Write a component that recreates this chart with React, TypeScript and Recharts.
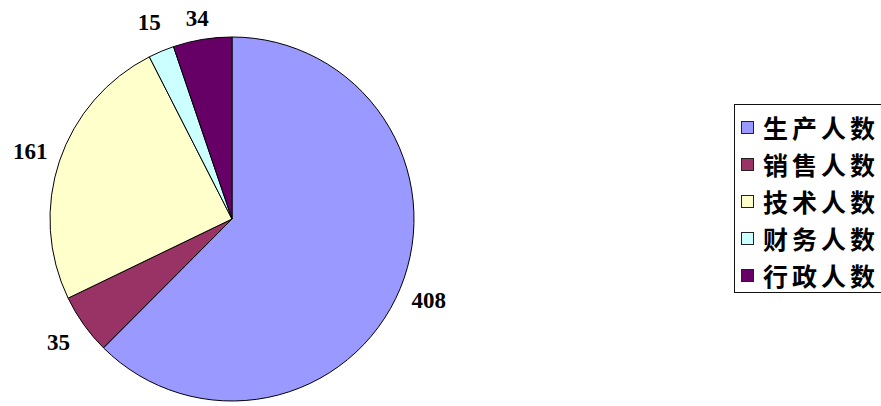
import { Cell, Legend, Pie, PieChart } from 'recharts'

const categories = ['生产人数', '销售人数', '技术人数', '财务人数', '行政人数']
const counts = [408, 35, 161, 15, 34]
const colors = ['#9999FF', '#993366', '#FFFFCC', '#CCFFFF', '#660066']

const data = categories.map((name, i) => ({ name, value: counts[i] }))

const RADIAN = Math.PI / 180

function renderLabel(props: any) {
  const { cx, cy, midAngle, outerRadius, value } = props
  const r = outerRadius + 31
  const x = cx + r * Math.cos(-midAngle * RADIAN)
  // keep the top labels inside the picture
  const y = Math.max(cy + r * Math.sin(-midAngle * RADIAN), 18)
  return (
    <text
      x={x}
      y={y}
      textAnchor="middle"
      dominantBaseline="central"
      fill="#000"
      fontFamily="'Liberation Serif', serif"
      fontWeight="bold"
      fontSize={23}
    >
      {value}
    </text>
  )
}

function LegendBox() {
  return (
    <div
      style={{
        width: 160,
        height: 189,
        border: '1px solid #111',
        background: '#fff',
        boxSizing: 'border-box',
        paddingTop: 4,
      }}
    >
      {categories.map((name, i) => (
        <div key={name} style={{ display: 'flex', alignItems: 'center', height: 37 }}>
          <span
            style={{
              width: 11,
              height: 11,
              marginLeft: 6,
              marginRight: 9,
              background: colors[i],
              border: '1px solid #222',
            }}
          />
          <span
            style={{
              fontFamily: "'Noto Sans CJK SC', sans-serif",
              fontWeight: 'bold',
              fontSize: 25,
              letterSpacing: 4,
              lineHeight: 1,
              color: '#000',
              whiteSpace: 'nowrap',
            }}
          >
            {name}
          </span>
        </div>
      ))}
    </div>
  )
}

export default function App() {
  return (
    <div style={{ position: 'absolute', left: 0, top: 0, width: 881, height: 406, background: '#fff', overflow: 'hidden' }}>
      <PieChart width={881} height={406} margin={{ top: 0, right: 0, bottom: 0, left: 0 }}>
        <Pie
          data={data}
          dataKey="value"
          nameKey="name"
          cx={232}
          cy={219}
          outerRadius={182}
          startAngle={90}
          endAngle={-270}
          stroke="#000"
          strokeWidth={1}
          label={renderLabel}
          labelLine={false}
          isAnimationActive={false}
        >
          {data.map((d, i) => (
            <Cell key={d.name} fill={colors[i]} />
          ))}
        </Pie>
        <Legend
          content={() => <LegendBox />}
          wrapperStyle={{ position: 'absolute', left: 734, top: 104, width: 160, height: 189 }}
        />
      </PieChart>
    </div>
  )
}
